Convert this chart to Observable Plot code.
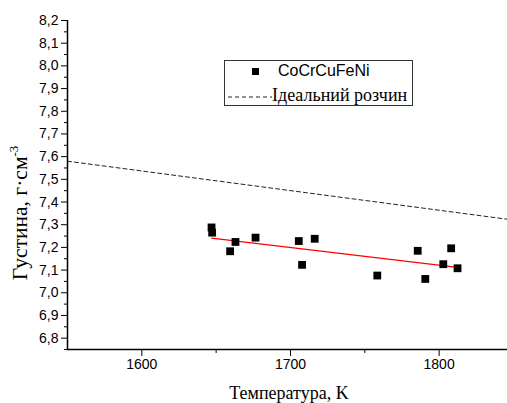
<!DOCTYPE html>
<html>
<head>
<meta charset="utf-8">
<script src="https://cdn.jsdelivr.net/npm/d3@7"></script>
<script src="https://cdn.jsdelivr.net/npm/@observablehq/plot@0.6"></script>
<style>
  body { margin: 0; background: #fff; }
  #wrap { position: relative; width: 507px; height: 403px; overflow: hidden; }
  .lbl { position: absolute; font-family: "Liberation Serif", serif; color: #000; white-space: nowrap; }
  sup { font-size: 60%; }
</style>
</head>
<body>
<div id="wrap"></div>
<script>
// measured points: temperature (K) and density (g/cm^3)
const temps = [1646.9, 1647.3, 1659.4, 1663.0, 1676.5, 1705.6, 1707.8, 1716.3, 1758.4, 1785.6, 1790.7, 1802.8, 1808.1, 1812.4];
const dens  = [7.288, 7.265, 7.183, 7.224, 7.243, 7.228, 7.123, 7.238, 7.076, 7.185, 7.061, 7.126, 7.196, 7.108];
// linear fit (red line)
const fitT = [1646.9, 1812.4];
const fitD = [7.241, 7.112];
// ideal solution (dashed line)
const idealT = [1550, 1846];
const idealD = [7.580, 7.324];
// ticks
const xMajor = [1600, 1700, 1800];
const xMinor = [1650, 1750];
const yMajor = [6.8, 6.9, 7.0, 7.1, 7.2, 7.3, 7.4, 7.5, 7.6, 7.7, 7.8, 7.9, 8.0, 8.1, 8.2];
const yMinor = [6.75, 6.85, 6.95, 7.05, 7.15, 7.25, 7.35, 7.45, 7.55, 7.65, 7.75, 7.85, 7.95, 8.05, 8.15];

const pts = temps.map((t, i) => ({t, d: dens[i]}));
const fit = fitT.map((t, i) => ({t, d: fitD[i]}));
const ideal = idealT.map((t, i) => ({t, d: idealD[i]}));

const sans = "Liberation Sans, Arial, sans-serif";

const chart = Plot.plot({
  width: 507,
  height: 403,
  marginLeft: 67,
  marginRight: 0,
  marginTop: 20,
  marginBottom: 54,
  x: {domain: [1550, 1846]},
  y: {domain: [6.75, 8.2]},
  style: {background: "white", overflow: "visible"},
  marks: [
    Plot.line(ideal, {x: "t", y: "d", stroke: "#222", strokeWidth: 1, strokeDasharray: "4,3"}),
    Plot.line(fit, {x: "t", y: "d", stroke: "red", strokeWidth: 1.2}),
    Plot.dot(pts, {x: "t", y: "d", symbol: "square", r: 4.4, fill: "black", stroke: "none"}),
    Plot.axisY({ticks: yMajor, tickSize: 6, tickPadding: 3, anchor: "left", label: null,
      tickFormat: d => d.toFixed(1).replace(".", ","), fontSize: 14, fontFamily: sans, stroke: "black", fill: "black"}),
    Plot.axisY({ticks: yMinor, tickSize: 3, anchor: "left", label: null, tickFormat: () => "", stroke: "black"}),
    Plot.axisX({ticks: xMajor, tickSize: 7, tickPadding: 3, anchor: "bottom", label: null,
      tickFormat: d => String(d), fontSize: 14, fontFamily: sans, stroke: "black", fill: "black"}),
    Plot.axisX({ticks: xMinor, tickSize: 4, anchor: "bottom", label: null, tickFormat: () => "", stroke: "black"}),
    Plot.ruleX([1550], {stroke: "black", strokeWidth: 1.5}),
    Plot.ruleY([6.75], {stroke: "black", strokeWidth: 1.5})
  ]
});

const wrap = document.getElementById("wrap");
wrap.appendChild(chart);

// axis labels
const xl = document.createElement("div");
xl.className = "lbl";
xl.style.cssText = "left:289px;top:383px;transform:translateX(-50%);font-size:18px;";
xl.textContent = "Температура, K";
wrap.appendChild(xl);

const yl = document.createElement("div");
yl.className = "lbl";
yl.style.cssText = "left:20px;top:213px;transform:translate(-50%,-50%) rotate(-90deg);font-size:21.5px;";
yl.innerHTML = "Густина, г·см<sup>-3</sup>";
wrap.appendChild(yl);

// legend
const lg = document.createElement("div");
lg.style.cssText = "position:absolute;left:224px;top:60px;width:187px;height:44px;border:1px solid #333;background:#fff;";
lg.innerHTML =
  '<div style="position:absolute;left:27px;top:7px;width:7px;height:7px;background:#000"></div>' +
  '<div style="position:absolute;left:53px;top:0px;font-family:' + sans + ';font-size:16px;line-height:20px;">CoCrCuFeNi</div>' +
  '<svg style="position:absolute;left:3px;top:34px" width="44" height="4"><line x1="0" y1="2" x2="44" y2="2" stroke="#222" stroke-dasharray="4,3"/></svg>' +
  '<div style="position:absolute;left:47px;top:23px;font-family:Liberation Serif,serif;font-size:18px;line-height:22px;">Ідеальний розчин</div>';
wrap.appendChild(lg);
</script>
</body>
</html>
